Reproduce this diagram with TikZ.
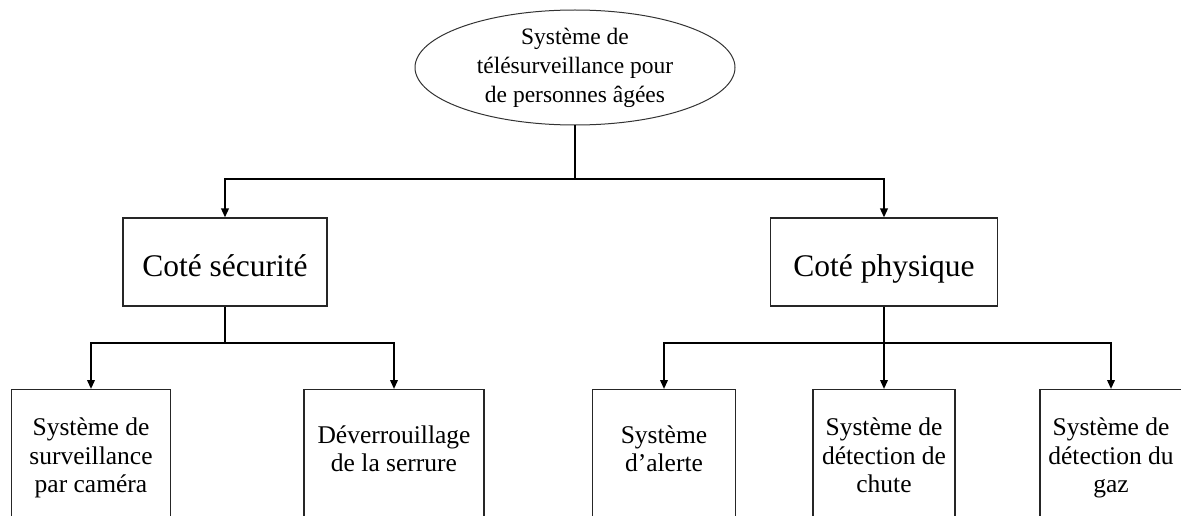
\documentclass[tikz,border=0pt]{standalone}
\usepackage{fontspec}
\setmainfont{Liberation Serif}
\usetikzlibrary{shapes.geometric,arrows.meta}
\begin{document}
\begin{tikzpicture}[x=1pt,y=-1pt,
  wire/.style={line width=2pt, black},
  feed/.style={wire, -{Triangle[length=9pt,width=7.5pt]}},
  struts/.style={execute at begin node=\strut, execute at end node=\strut},
  sidebox/.style={draw=black!85, line width=1.1pt, minimum width=#1, minimum height=88pt,
    inner sep=0pt, text height=30pt, text depth=2pt, font=\fontsize{31.5}{36}\selectfont},
  leafbox/.style 2 args={draw=black!85, line width=1.1pt, anchor=north,
    minimum width=#1, minimum height=#2, inner sep=0pt, align=center, struts,
    font=\fontsize{25.5}{28.5}\selectfont},
]
\useasboundingbox (0,0) rectangle (1181,516);
\clip (0,0) rectangle (1181,516);

% root of the tree
\node[ellipse, draw=black!80, line width=1pt, minimum width=320pt, minimum height=115pt,
  inner sep=0pt] (root) at (575,67.5) {};
\node[align=center, struts, inner sep=0pt, font=\fontsize{23.5}{29}\selectfont] (roottext)
  at ([yshift=-2.4pt]root.center)
  {Système de\\télésurveillance pour\\de personnes âgées};

% two branches
\node[sidebox=204pt] (sec) at (225,262) {Coté sécurité};
\node[sidebox=227pt] (phy) at (884,262) {Coté physique};

% leaves, all hanging from the same top line
\node[leafbox={159pt}{140pt}] (cam)   at (91,389)   {Système de\\surveillance\\par caméra};
\node[leafbox={180pt}{127pt}] (lock)  at (394,389)  {Déverrouillage\\de la serrure};
\node[leafbox={143pt}{127pt}] (alert) at (664,389)  {Système\\d’alerte};
\node[leafbox={142pt}{140pt}] (fall)  at (884,389)  {Système de\\détection de\\chute};
\node[leafbox={142pt}{140pt}] (gas)   at (1111,389) {Système de\\détection du\\gaz};

% bus junctions
\coordinate (rootbus) at (root.south |- 0,179);
\coordinate (secbus)  at (sec.south |- 0,343);
\coordinate (phybus)  at (phy.south |- 0,343);

% connectors
\draw[wire] (root.south) -- (rootbus);
\draw[feed] (rootbus) -| (sec.north);
\draw[feed] (rootbus) -| (phy.north);

\draw[wire] (sec.south) -- (secbus);
\draw[feed] (secbus) -| (cam.north);
\draw[feed] (secbus) -| (lock.north);

\draw[wire] (phy.south) -- (phybus);
\draw[feed] (phybus) -| (alert.north);
\draw[feed] (phybus) -| (fall.north);
\draw[feed] (phybus) -| (gas.north);
\end{tikzpicture}
\end{document}
